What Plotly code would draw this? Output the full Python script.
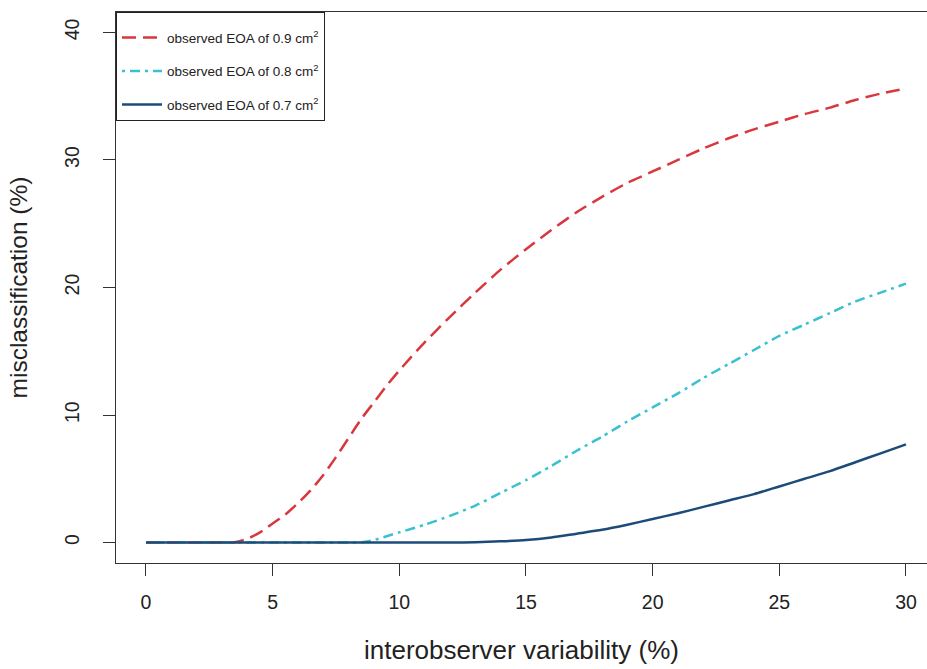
import plotly.graph_objects as go

# interobserver variability (%) and misclassification (%)
x_09 = [0, 1, 2, 3, 3.5, 4, 4.5, 5, 5.5, 6, 6.5, 7, 7.5, 8, 8.5, 9, 9.5, 10, 11, 12, 13, 14, 15,
        16, 17, 18, 19, 20, 21, 22, 23, 24, 25, 26, 27, 28, 29, 30]
y_09 = [0, 0, 0, 0, 0.03, 0.3, 0.8, 1.5, 2.2, 3.1, 4.1, 5.3, 6.7, 8.2, 9.7, 11.0, 12.3, 13.5,
        15.7, 17.7, 19.6, 21.4, 23.0, 24.5, 25.9, 27.1, 28.2, 29.1, 30.0, 30.9, 31.7, 32.4,
        33.0, 33.6, 34.1, 34.7, 35.2, 35.6]

x_08 = [0, 1, 2, 3, 4, 5, 6, 7, 8, 8.5, 9, 9.5, 10, 11, 12, 13, 14, 15, 16, 17, 18, 19, 20,
        21, 22, 23, 24, 25, 26, 27, 28, 29, 30]
y_08 = [0, 0, 0, 0, 0, 0, 0, 0, 0, 0.03, 0.2, 0.5, 0.8, 1.4, 2.1, 2.9, 3.9, 4.9, 6.0, 7.2, 8.3,
        9.5, 10.6, 11.7, 12.9, 14.0, 15.1, 16.2, 17.1, 18.0, 18.9, 19.6, 20.3]

x_07 = list(range(0, 31))
y_07 = [0, 0, 0, 0, 0, 0, 0, 0, 0, 0, 0, 0, 0, 0.03, 0.1, 0.2, 0.4, 0.7, 1.0, 1.4, 1.85, 2.3,
        2.8, 3.3, 3.8, 4.4, 5.0, 5.6, 6.3, 7.0, 7.7]

names = ["observed EOA of 0.9 cm<sup>2</sup>",
         "observed EOA of 0.8 cm<sup>2</sup>",
         "observed EOA of 0.7 cm<sup>2</sup>"]
x_ticks = [0, 5, 10, 15, 20, 25, 30]
y_ticks = [0, 10, 20, 30, 40]

FONT = "Liberation Sans, Arial, Helvetica, sans-serif"

fig = go.Figure()
fig.add_trace(go.Scatter(x=x_09, y=y_09, mode="lines", name=names[0], legendgroup="a",
                         line=dict(color="#d8373d", width=2.5, dash="14px,7px", shape="spline", smoothing=0.7)))
fig.add_trace(go.Scatter(x=x_08, y=y_08, mode="lines", name=names[1], legendgroup="b",
                         line=dict(color="#36c2cf", width=2.5, dash="3px,5px,10px,5px", shape="spline", smoothing=0.7)))
fig.add_trace(go.Scatter(x=x_07, y=y_07, mode="lines", name=names[2], legendgroup="c",
                         line=dict(color="#1c4b79", width=2.5, shape="spline", smoothing=0.7)))

fig.update_layout(
    width=927, height=669,
    margin=dict(l=116, r=0, t=12, b=106),
    paper_bgcolor="white", plot_bgcolor="white",
    font=dict(family=FONT, color="#222222", size=19),
    showlegend=True,
    legend=dict(x=0, y=1, xanchor="left", yanchor="top",
                bgcolor="white", bordercolor="#222222", borderwidth=1,
                font=dict(size=13.5, family=FONT, color="#222222"),
                title=dict(text=" ", font=dict(size=7)),
                tracegroupgap=13, itemwidth=40),
)
fig.update_xaxes(
    range=[-1.184, 30.83], tickvals=x_ticks, showgrid=False, zeroline=False,
    showline=True, linecolor="#333333", linewidth=1, mirror=True,
    ticks="outside", ticklen=12, tickcolor="#333333", tickfont=dict(size=19.5),
    ticklabelstandoff=10,
    title=dict(text="interobserver variability (%)", font=dict(size=26), standoff=28),
)
fig.update_yaxes(
    range=[-1.6, 41.6], tickvals=y_ticks, showgrid=False, zeroline=False,
    showline=True, linecolor="#333333", linewidth=1,
    ticks="outside", ticklen=12, tickcolor="#333333", tickfont=dict(size=19.5),
    tickangle=-90, ticklabelstandoff=16,
    title=dict(text="misclassification (%)", font=dict(size=24.5), standoff=26),
)

fig.write_html("out.html")
